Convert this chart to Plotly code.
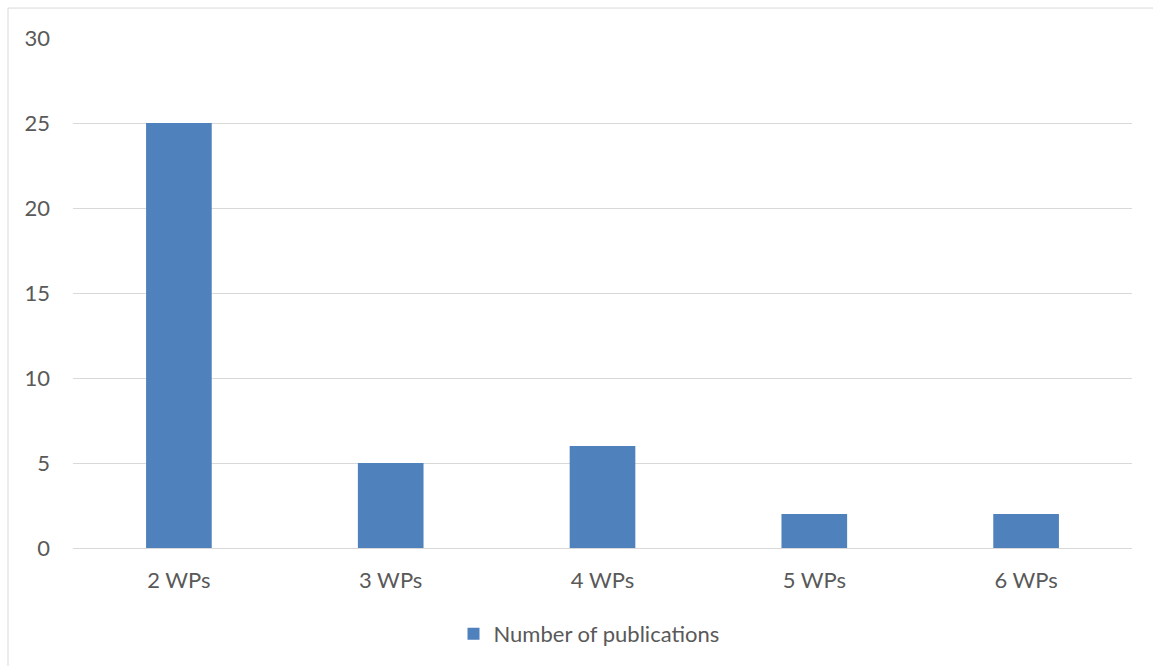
import plotly.graph_objects as go

categories = ["2 WPs", "3 WPs", "4 WPs", "5 WPs", "6 WPs"]
values = [25, 5, 6, 2, 2]
series_name = "Number of publications"
y_ticks = [0, 5, 10, 15, 20, 25, 30]

L, R, T, B = 73, 21, 38, 117
W, H = 1153, 666
pw, ph = W - L - R, H - T - B

def px(x):
    return (x - L) / pw

def py(y):
    return (H - B - y) / ph

fig = go.Figure()
fig.add_trace(go.Bar(x=categories, y=values, name=series_name,
                     marker=dict(color="#4F81BD", line=dict(width=0))))

font = dict(family="Lato, 'Open Sans', sans-serif", size=22, color="#595959")

fig.update_layout(
    width=W, height=H,
    margin=dict(l=L, r=R, t=T, b=B),
    paper_bgcolor="white", plot_bgcolor="white",
    bargap=0.69,
    font=font,
    showlegend=True,
    legend=dict(orientation="h", x=px(589), xanchor="center", y=py(634), yanchor="middle",
                font=font, itemwidth=30),
    xaxis=dict(showgrid=False, showline=True, linecolor="#D9D9D9", linewidth=1,
               ticks="", tickfont=font, ticklabelstandoff=13),
    yaxis=dict(range=[0, 30], tickvals=y_ticks, showgrid=True, gridcolor="#D9D9D9",
               gridwidth=1, zeroline=False, showline=False, ticks="", tickfont=font,
               ticklabelstandoff=22),
    shapes=[dict(type="rect", xref="paper", yref="paper",
                 x0=px(8), x1=px(1160), y0=py(8), y1=py(672),
                 line=dict(color="#D9D9D9", width=1), fillcolor="rgba(0,0,0,0)", layer="below")],
)

fig.write_html("out.html")
